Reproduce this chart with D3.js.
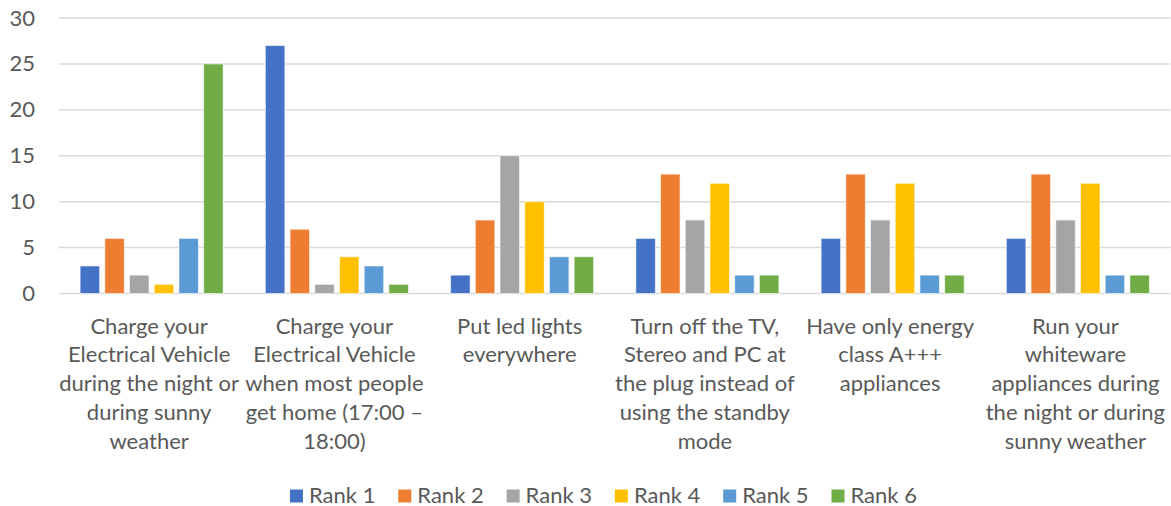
<!DOCTYPE html>
<html>
<head>
<meta charset="utf-8">
<script src="https://cdn.jsdelivr.net/npm/d3@7"></script>
<style>
  html, body { margin: 0; padding: 0; background: #fff; }
  svg { display: block; }
  text { font-family: Lato, "Open Sans", sans-serif; fill: #595959; }
</style>
</head>
<body>
<svg id="chart" width="1171" height="506"></svg>
<script>
// Survey answers: how many respondents put each action at each rank
const categories = [
  ["Charge your", "Electrical Vehicle", "during the night or", "during sunny", "weather"],
  ["Charge your", "Electrical Vehicle", "when most people", "get home (17:00 \u2013", "18:00)"],
  ["Put led lights", "everywhere"],
  ["Turn off the TV,", "Stereo and PC at", "the plug instead of", "using the standby", "mode"],
  ["Have only energy", "class A+++", "appliances"],
  ["Run your", "whiteware", "appliances during", "the night or during", "sunny weather"]
];
const ranks = ["Rank 1", "Rank 2", "Rank 3", "Rank 4", "Rank 5", "Rank 6"];
const rank1 = [3, 27, 2, 6, 6, 6];
const rank2 = [6, 7, 8, 13, 13, 13];
const rank3 = [2, 1, 15, 8, 8, 8];
const rank4 = [1, 4, 10, 12, 12, 12];
const rank5 = [6, 3, 4, 2, 2, 2];
const rank6 = [25, 1, 4, 2, 2, 2];
const yTicks = [0, 5, 10, 15, 20, 25, 30];
const colors = ["#4472C4", "#ED7D31", "#A5A5A5", "#FFC000", "#5B9BD5", "#70AD47"];

const series = [rank1, rank2, rank3, rank4, rank5, rank6];
const svg = d3.select("#chart");

const plotLeft = 59, plotRight = 1170.5, plotTop = 18, plotBottom = 293.5;
const fontSize = 22;

const x0 = d3.scaleBand().domain(d3.range(categories.length)).range([plotLeft, plotRight]).paddingInner(0).paddingOuter(0);
const x1 = d3.scaleBand().domain(ranks).range([0, x0.bandwidth()]).paddingInner(0.21).paddingOuter(0.854);
const y = d3.scaleLinear().domain([0, 30]).range([plotBottom, plotTop]);
const color = d3.scaleOrdinal().domain(ranks).range(colors);

// Horizontal gridlines
svg.append("g")
  .selectAll("line")
  .data(yTicks)
  .join("line")
  .attr("x1", plotLeft).attr("x2", plotRight)
  .attr("y1", d => y(d)).attr("y2", d => y(d))
  .attr("stroke", "#D9D9D9")
  .attr("stroke-width", 1.5);

// Y axis labels
const yAxis = svg.append("g")
  .attr("transform", `translate(${plotLeft - 24},0)`)
  .call(d3.axisLeft(y).tickValues(yTicks).tickSize(0).tickPadding(0));
yAxis.select(".domain").remove();
yAxis.selectAll("text")
  .attr("font-size", fontSize)
  .attr("fill", "#595959")
  .style("font-family", "Lato, 'Open Sans', sans-serif");

// Bars
const groups = svg.append("g")
  .selectAll("g")
  .data(categories.map((c, i) => i))
  .join("g")
  .attr("transform", i => `translate(${x0(i)},0)`);

groups.selectAll("rect")
  .data(i => ranks.map((r, k) => ({ rank: r, value: series[k][i] })))
  .join("rect")
  .attr("x", d => x1(d.rank))
  .attr("width", x1.bandwidth())
  .attr("y", d => y(d.value))
  .attr("height", d => y(0) - y(d.value))
  .attr("fill", d => color(d.rank))
  .attr("stroke", "#ffffff")
  .attr("stroke-opacity", 0.6)
  .attr("stroke-width", 1);

// Category labels (wrapped lines)
const lineHeight = 28.8;
const catLabels = svg.append("g")
  .selectAll("text")
  .data(categories)
  .join("text")
  .attr("text-anchor", "middle")
  .attr("font-size", fontSize)
  .attr("transform", (d, i) => `translate(${x0(i) + x0.bandwidth() / 2 - 2.5},${plotBottom + 40})`);
catLabels.selectAll("tspan")
  .data(d => d)
  .join("tspan")
  .attr("x", 0)
  .attr("y", (d, j) => j * lineHeight)
  .text(d => d);

// Legend
const legend = svg.append("g")
  .selectAll("g")
  .data(ranks)
  .join("g")
  .attr("transform", (d, i) => `translate(${290 + i * 108.3},${489.5})`);
legend.append("rect")
  .attr("width", 13).attr("height", 13)
  .attr("fill", d => color(d));
legend.append("text")
  .attr("x", 19).attr("y", 13)
  .attr("font-size", fontSize)
  .text(d => d);
</script>
</body>
</html>
